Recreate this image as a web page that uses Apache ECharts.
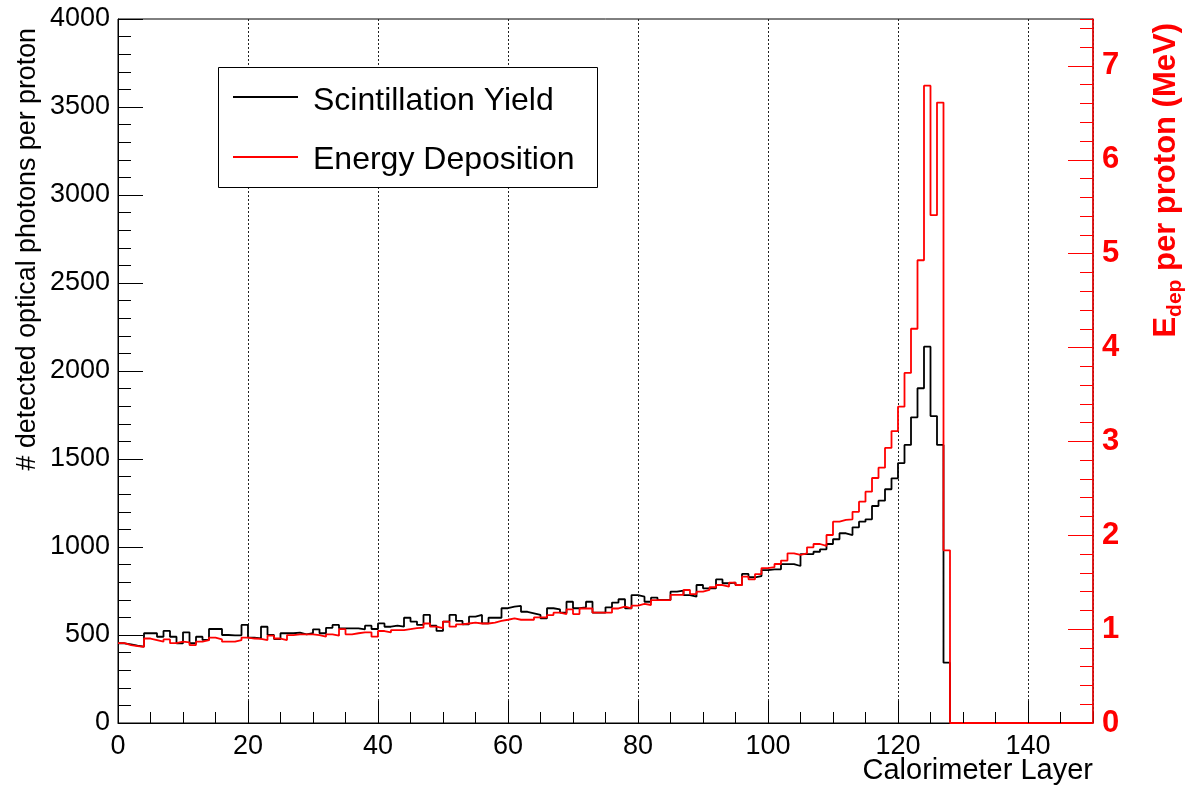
<!DOCTYPE html>
<html>
<head>
<meta charset="utf-8">
<script src="https://cdn.jsdelivr.net/npm/echarts@6/dist/echarts.min.js"></script>
<style>
	html, body { margin: 0; padding: 0; background: #fff; }
	#chart { width: 1196px; height: 786px; }
</style>
</head>
<body>
<div id="chart"></div>
<script>
// 每层探测到的光子数 (black histogram), bins 0..149
var scintYield = [
	453, 447, 439, 434, 510, 510, 490, 523, 490, 453,
	515, 453, 490, 472, 534, 534, 500, 498, 498, 557,
	485, 481, 547, 500, 477, 510, 510, 513, 504, 510,
	532, 510, 541, 557, 538, 538, 538, 532, 553, 534,
	566, 547, 553, 547, 598, 576, 557, 614, 553, 523,
	576, 614, 580, 561, 604, 614, 566, 598, 598, 652,
	661, 665, 632, 623, 614, 595, 652, 646, 627, 689,
	652, 657, 689, 627, 627, 657, 684, 703, 652, 727,
	718, 689, 712, 699, 699, 746, 752, 727, 718, 784,
	765, 765, 816, 794, 798, 784, 847, 828, 835, 869,
	873, 873, 903, 903, 892, 960, 960, 973, 987, 1017,
	1044, 1078, 1068, 1112, 1144, 1157, 1233, 1263, 1328, 1390,
	1477, 1580, 1737, 1902, 2138, 1744, 1580, 343, 0, 0,
	0, 0, 0, 0, 0, 0, 0, 0, 0, 0,
	0, 0, 0, 0, 0, 0, 0, 0, 0, 0
];

// 能量沉积 MeV (red histogram), bins 0..149
var energyDep = [
	0.85, 0.83, 0.82, 0.81, 0.90, 0.884, 0.866, 0.89, 0.85, 0.866,
	0.86, 0.83, 0.866, 0.884, 0.91, 0.89, 0.866, 0.866, 0.884, 0.91,
	0.90, 0.896, 0.884, 0.93, 0.90, 0.884, 0.937, 0.945, 0.945, 0.945,
	0.937, 0.92, 0.945, 0.93, 1.0, 0.945, 0.956, 0.966, 0.966, 0.92,
	0.98, 0.966, 0.99, 0.99, 1.0, 1.01, 1.015, 1.06, 1.026, 1.01,
	1.08, 1.026, 1.05, 1.06, 1.07, 1.06, 1.06, 1.07, 1.087, 1.10,
	1.115, 1.10, 1.10, 1.10, 1.126, 1.126, 1.15, 1.175, 1.16, 1.21,
	1.16, 1.22, 1.22, 1.175, 1.175, 1.175, 1.22, 1.24, 1.22, 1.25,
	1.268, 1.257, 1.31, 1.31, 1.31, 1.364, 1.364, 1.417, 1.374, 1.399,
	1.417, 1.446, 1.47, 1.452, 1.495, 1.47, 1.559, 1.531, 1.587, 1.65,
	1.66, 1.694, 1.73, 1.808, 1.79, 1.808, 1.872, 1.907, 1.886, 2.003,
	2.145, 2.163, 2.17, 2.25, 2.358, 2.464, 2.61, 2.72, 2.93, 3.11,
	3.37, 3.73, 4.20, 4.93, 6.79, 5.41, 6.61, 1.84, 0, 0,
	0, 0, 0, 0, 0, 0, 0, 0, 0, 0,
	0, 0, 0, 0, 0, 0, 0, 0, 0, 0
];

var xTicks = [0, 150, 20];      // min, max, interval
var leftTicks = [0, 4000, 500];
var rightTicks = [0, 7.5, 1];
var legendNames = ['Scintillation Yield', 'Energy Deposition'];

var FONT = 'Liberation Sans';

// 直方图 -> 阶梯线的点
function histPoints(values) {
	var pts = new Array();
	for (var i = 0; i < values.length; i++) {
		pts.push([i, values[i]]);
	}
	pts.push([values.length, values[values.length - 1]]);
	return pts;
}

// 只画刻度的辅助轴
function tickAxis(pos, min, max, step, len, color) {
	return {
		type : 'value',
		min : min,
		max : max,
		interval : step,
		position : pos,
		z : 5,
		axisLine : { show : false, onZero : false },
		axisTick : { show : true, inside : true, length : len, lineStyle : { color : color, width : 1 } },
		axisLabel : { show : false },
		splitLine : { show : false }
	};
}

var chart = echarts.init(document.getElementById('chart'), null, { renderer : 'canvas' });

var option = {
	backgroundColor : '#fff',
	animation : false,
	grid : {
		left : 118,
		right : 103,
		top : 19,
		bottom : 63,
		show : true,
		borderColor : '#000',
		borderWidth : 1
	},
	xAxis : [ {
		type : 'value',
		min : xTicks[0],
		max : xTicks[1],
		interval : xTicks[2],
		position : 'bottom',
		axisLine : { onZero : false, lineStyle : { color : '#000', width : 1 } },
		axisTick : { inside : true, length : 22, lineStyle : { color : '#000' } },
		axisLabel : {
			color : '#000',
			fontFamily : FONT,
			fontSize : 27,
			margin : 10,
			showMaxLabel : false
		},
		splitLine : {
			show : true,
			lineStyle : { color : '#222', width : 1, type : [ 2, 2 ] }
		}
	}, tickAxis('bottom', xTicks[0], xTicks[1], 5, 11, '#000') ],
	yAxis : [ {
		type : 'value',
		min : leftTicks[0],
		max : leftTicks[1],
		interval : leftTicks[2],
		position : 'left',
		axisLine : { show : true, onZero : false, lineStyle : { color : '#000', width : 1 } },
		axisTick : { show : true, inside : true, length : 25, lineStyle : { color : '#000' } },
		axisLabel : {
			color : '#000',
			fontFamily : FONT,
			fontSize : 27,
			margin : 8,
			formatter : function(v) { return String(v); }
		},
		splitLine : { show : false }
	}, {
		type : 'value',
		min : rightTicks[0],
		max : rightTicks[1],
		interval : rightTicks[2],
		position : 'right',
		z : 6,
		axisLine : { show : true, onZero : false, lineStyle : { color : '#ff0000', width : 1.5 } },
		axisTick : { show : true, inside : true, length : 25, lineStyle : { color : '#ff0000' } },
		axisLabel : {
			color : '#ff0000',
			fontFamily : FONT,
			fontWeight : 'bold',
			fontSize : 31,
			margin : 9,
			showMaxLabel : false
		},
		splitLine : { show : false }
	},
	tickAxis('left', leftTicks[0], leftTicks[1], 100, 13, '#000'),
	tickAxis('right', rightTicks[0], rightTicks[1], 0.2, 13, '#ff0000') ],
	series : [ {
		name : legendNames[0],
		type : 'line',
		step : 'end',
		xAxisIndex : 0,
		yAxisIndex : 0,
		symbol : 'none',
		lineStyle : { color : '#000', width : 1.8 },
		data : histPoints(scintYield),
		z : 2
	}, {
		name : legendNames[1],
		type : 'line',
		step : 'end',
		xAxisIndex : 0,
		yAxisIndex : 1,
		symbol : 'none',
		lineStyle : { color : '#ff0000', width : 1.8 },
		data : histPoints(energyDep),
		z : 3
	} ],
	graphic : [ {
		type : 'text',
		x : 1093,
		y : 771,
		style : {
			text : 'Calorimeter Layer',
			font : '29px "' + FONT + '"',
			fill : '#000',
			align : 'right', textAlign : 'right',
			verticalAlign : 'middle', textVerticalAlign : 'middle'
		}
	}, {
		type : 'text',
		x : 28,
		y : 28,
		rotation : Math.PI / 2,
		style : {
			text : '# detected optical photons per proton',
			font : '26.8px "' + FONT + '"',
			fill : '#000',
			align : 'right', textAlign : 'right',
			verticalAlign : 'middle', textVerticalAlign : 'middle'
		}
	}, {
		type : 'text',
		x : 1166,
		y : 23,
		rotation : Math.PI / 2,
		style : {
			text : '{e|E}{s|dep}{e| per proton (MeV)}',
			align : 'right', textAlign : 'right',
			verticalAlign : 'middle', textVerticalAlign : 'middle',
			rich : {
				e : { fontFamily : FONT, fontWeight : 'bold', fontSize : 31, fill : '#ff0000', color : '#ff0000', lineHeight : 40, verticalAlign : 'middle' },
				s : { fontFamily : FONT, fontWeight : 'bold', fontSize : 21, fill : '#ff0000', color : '#ff0000', lineHeight : 40, verticalAlign : 'bottom' }
			}
		}
	}, { // legend box
		type : 'rect',
		shape : { x : 218.5, y : 67.5, width : 379, height : 120 },
		style : { fill : '#fff', stroke : '#000', lineWidth : 1 },
		z : 10
	}, {
		type : 'line',
		shape : { x1 : 233, y1 : 97, x2 : 298, y2 : 97 },
		style : { stroke : '#000', lineWidth : 1.8 },
		z : 11
	}, {
		type : 'text',
		x : 313,
		y : 101,
		style : {
			text : legendNames[0],
			font : '32px "' + FONT + '"',
			fill : '#000',
			align : 'left', textAlign : 'left',
			verticalAlign : 'middle', textVerticalAlign : 'middle'
		},
		z : 11
	}, {
		type : 'line',
		shape : { x1 : 233, y1 : 157, x2 : 298, y2 : 157 },
		style : { stroke : '#ff0000', lineWidth : 1.8 },
		z : 11
	}, {
		type : 'text',
		x : 313,
		y : 160,
		style : {
			text : legendNames[1],
			font : '32px "' + FONT + '"',
			fill : '#000',
			align : 'left', textAlign : 'left',
			verticalAlign : 'middle', textVerticalAlign : 'middle'
		},
		z : 11
	} ]
};

chart.setOption(option);
</script>
</body>
</html>
